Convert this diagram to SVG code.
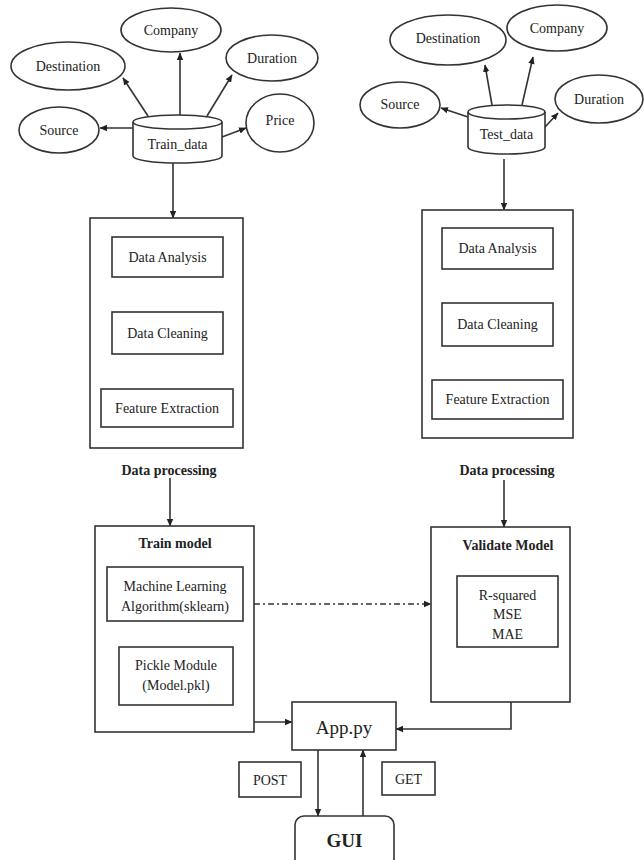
<svg xmlns="http://www.w3.org/2000/svg" width="644" height="860" viewBox="0 0 644 860">
<defs>
<marker id="ah" markerWidth="8" markerHeight="8" refX="7" refY="4" orient="auto" markerUnits="userSpaceOnUse">
<path d="M0,0.8 L7.5,4 L0,7.2 Z" fill="#222"/>
</marker>
</defs>
<style>
.s{fill:#fff;stroke:#333;stroke-width:1.6}
.c{fill:none;stroke:#333;stroke-width:1.6}
.t{font-family:"Liberation Serif","Times New Roman",serif;font-size:14px;fill:#222;text-anchor:middle;dominant-baseline:central}
.b{font-weight:bold}
.dd{stroke-dasharray:6 3 2 3}
</style>
<rect width="644" height="860" fill="#fff"/>

<g id="connectors">
<line class="c" x1="180" y1="115" x2="180" y2="53" marker-end="url(#ah)"/>
<line class="c" x1="148" y1="116" x2="123" y2="78" marker-end="url(#ah)"/>
<line class="c" x1="207" y1="116" x2="232" y2="75" marker-end="url(#ah)"/>
<line class="c" x1="133" y1="128" x2="100" y2="128" marker-end="url(#ah)"/>
<line class="c" x1="222" y1="137" x2="246" y2="128" marker-end="url(#ah)"/>
<line class="c" x1="173" y1="163" x2="173" y2="218" marker-end="url(#ah)"/>
<line class="c" x1="492" y1="105" x2="485" y2="65" marker-end="url(#ah)"/>
<line class="c" x1="522" y1="105" x2="533" y2="57" marker-end="url(#ah)"/>
<line class="c" x1="468" y1="117" x2="441" y2="108" marker-end="url(#ah)"/>
<line class="c" x1="545" y1="127" x2="558" y2="113" marker-end="url(#ah)"/>
<line class="c" x1="504" y1="159" x2="504" y2="210" marker-end="url(#ah)"/>
<line class="c" x1="170" y1="478" x2="170" y2="526" marker-end="url(#ah)"/>
<line class="c" x1="504" y1="480" x2="504" y2="527" marker-end="url(#ah)"/>
<line class="c dd" x1="254" y1="604" x2="431" y2="604" marker-end="url(#ah)"/>
<line class="c" x1="254" y1="722" x2="292" y2="722" marker-end="url(#ah)"/>
<polyline class="c" points="511,702 511,729 396,729" marker-end="url(#ah)"/>
<line class="c" x1="318" y1="750" x2="318" y2="816" marker-end="url(#ah)"/>
<line class="c" x1="363" y1="816" x2="363" y2="750" marker-end="url(#ah)"/>
</g>

<g id="train-company"><ellipse class="s" cx="171" cy="30" rx="50" ry="22"/><text class="t" x="171" y="30">Company</text></g>
<g id="train-destination"><ellipse class="s" cx="68" cy="66" rx="57" ry="24"/><text class="t" x="68" y="66">Destination</text></g>
<g id="train-duration"><ellipse class="s" cx="272" cy="58" rx="46" ry="23"/><text class="t" x="272" y="58">Duration</text></g>
<g id="train-source"><ellipse class="s" cx="59" cy="130" rx="40" ry="23"/><text class="t" x="59" y="130">Source</text></g>
<g id="train-price"><ellipse class="s" cx="280" cy="123" rx="34" ry="29"/><text class="t" x="280" y="120">Price</text></g>
<g id="train-data">
<path class="s" d="M133,122 A44.5,7 0 0 1 222,122 V156 A44.5,7 0 0 1 133,156 Z"/>
<path class="c" d="M133,122 A44.5,7 0 0 0 222,122"/>
<text class="t" x="177.5" y="144">Train_data</text>
</g>

<g id="test-destination"><ellipse class="s" cx="448" cy="40" rx="58" ry="25"/><text class="t" x="448" y="38">Destination</text></g>
<g id="test-company"><ellipse class="s" cx="557" cy="28" rx="50" ry="23"/><text class="t" x="557" y="28">Company</text></g>
<g id="test-source"><ellipse class="s" cx="400" cy="105" rx="40" ry="23"/><text class="t" x="400" y="104">Source</text></g>
<g id="test-duration"><ellipse class="s" cx="599" cy="99" rx="44" ry="24"/><text class="t" x="599" y="99">Duration</text></g>
<g id="test-data">
<path class="s" d="M468,112 A38.5,7 0 0 1 545,112 V147 A38.5,7 0 0 1 468,147 Z"/>
<path class="c" d="M468,112 A38.5,7 0 0 0 545,112"/>
<text class="t" x="506.5" y="134">Test_data</text>
</g>

<g id="train-processing">
<rect class="s" x="90" y="218" width="153" height="230"/>
<rect class="s" x="112" y="237" width="111" height="40"/><text class="t" x="167.5" y="257">Data Analysis</text>
<rect class="s" x="112" y="312" width="111" height="42"/><text class="t" x="167.5" y="333">Data Cleaning</text>
<rect class="s" x="101" y="389" width="132" height="38"/><text class="t" x="167" y="408">Feature Extraction</text>
<text class="t b" x="169" y="470">Data processing</text>
</g>

<g id="test-processing">
<rect class="s" x="422" y="210" width="151" height="228"/>
<rect class="s" x="442" y="228" width="111" height="41"/><text class="t" x="497.5" y="248">Data Analysis</text>
<rect class="s" x="442" y="303" width="111" height="43"/><text class="t" x="497.5" y="324">Data Cleaning</text>
<rect class="s" x="432" y="380" width="131" height="39"/><text class="t" x="497.5" y="399">Feature Extraction</text>
<text class="t b" x="507" y="470">Data processing</text>
</g>

<g id="train-model">
<rect class="s" x="95" y="526" width="159" height="206"/>
<text class="t b" x="175" y="543">Train model</text>
<rect class="s" x="107" y="567" width="136" height="54"/>
<text class="t" x="175" y="586">Machine Learning</text>
<text class="t" x="175" y="606">Algorithm(sklearn)</text>
<rect class="s" x="119" y="647" width="114" height="58"/>
<text class="t" x="176" y="665">Pickle Module</text>
<text class="t" x="176" y="685">(Model.pkl)</text>
</g>

<g id="validate-model">
<rect class="s" x="431" y="527" width="139" height="175"/>
<text class="t b" x="508" y="545">Validate Model</text>
<rect class="s" x="457" y="576" width="101" height="71"/>
<text class="t" x="507.5" y="595">R-squared</text>
<text class="t" x="507.5" y="614">MSE</text>
<text class="t" x="507.5" y="634">MAE</text>
</g>

<g id="app"><rect class="s" x="292" y="702" width="104" height="48"/><text class="t" x="344" y="727" style="font-size:19px">App.py</text></g>
<g id="post"><rect class="s" x="239" y="762" width="62" height="35"/><text class="t" x="270" y="780">POST</text></g>
<g id="get"><rect class="s" x="382" y="762" width="53" height="33"/><text class="t" x="408.5" y="779">GET</text></g>
<g id="gui"><rect class="s" x="295" y="816" width="99" height="60" rx="9"/><text class="t b" x="344.5" y="840" style="font-size:19px">GUI</text></g>
</svg>
